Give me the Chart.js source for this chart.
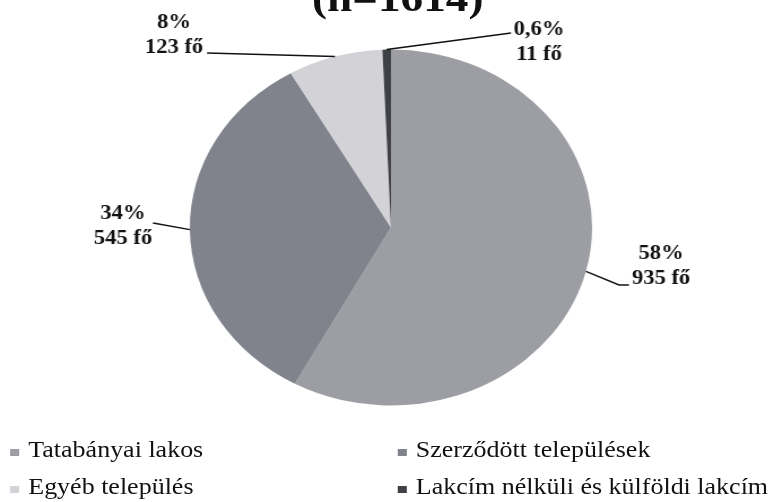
<!DOCTYPE html>
<html>
<head>
<meta charset="utf-8">
<script src="https://cdn.jsdelivr.net/npm/chart.js@4.4.1/dist/chart.umd.min.js"></script>
<style>
  html, body { margin: 0; padding: 0; background: #fff; overflow: hidden; }
  /* the source picture is stretched sideways, so the whole stage is too */
  #stage {
    position: absolute; left: 0; top: 0; width: 685px; height: 502px;
    transform: scaleX(1.13); transform-origin: 0 0;
    font-family: "Liberation Serif", "DejaVu Serif", serif; color: #111;
  }
  #title {
    position: absolute; left: 0; width: 704px; top: -22px;
    text-align: center; font-size: 40px; font-weight: bold; line-height: 40px;
  }
  #pie { position: absolute; left: 0; top: 0; }
  .item { position: absolute; font-size: 23px; line-height: 23px; white-space: nowrap; }
  .item i { position: absolute; width: 8px; height: 7px; top: 11px; }
</style>
</head>
<body>
<div id="stage">
  <div id="title">(n=1614)</div>
  <canvas id="pie" width="685" height="502"></canvas>
  <div id="legend"></div>
</div>
<script>
// ======================================
// Data
// ======================================

const SX = 1.13;

const labels = [
  "Tatabányai lakos",
  "Szerződött települések",
  "Egyéb település",
  "Lakcím nélküli és külföldi lakcím",
];

const counts = [935, 545, 123, 11];

const shares = ["58%", "34%", "8%", "0,6%"];

const colors = ["#9d9ea4", "#80828c", "#d3d3d7", "#3e4046"];

// ======================================
// Legend (two columns, html)
// ======================================

const legendSpots = [
  { left: 9, top: 438 },
  { left: 352, top: 438 },
  { left: 9, top: 475 },
  { left: 352, top: 475 },
];

const legend = document.getElementById("legend");

labels.forEach((label, i) => {
  const item = document.createElement("div");
  item.className = "item";
  item.style.left = legendSpots[i].left + "px";
  item.style.top = legendSpots[i].top + "px";
  item.style.paddingLeft = "16px";
  item.innerHTML = `<i style="left:0;background:${colors[i]}"></i>${label}`;
  legend.appendChild(item);
});

// ======================================
// Callout labels
// ======================================

const callouts = {
  id: "callouts",

  afterDatasetsDraw(chart, args, opts) {
    const ctx = chart.ctx;
    const meta = chart.getDatasetMeta(0);

    ctx.save();
    ctx.strokeStyle = "#111";
    ctx.lineWidth = 1.4;
    ctx.fillStyle = "#111";
    ctx.font = "bold 20px 'Liberation Serif', serif";
    ctx.textAlign = "center";
    ctx.textBaseline = "middle";

    meta.data.forEach((arc, i) => {
      const spot = opts.spots[i];
      const mid = (arc.startAngle + arc.endAngle) / 2;
      const ax = arc.x + Math.cos(mid) * arc.outerRadius;
      const ay = arc.y + Math.sin(mid) * arc.outerRadius;

      ctx.beginPath();
      spot.line.forEach((p, k) => {
        if (k === 0) ctx.moveTo(p[0] / SX, p[1]);
        else ctx.lineTo(p[0] / SX, p[1]);
      });
      ctx.lineTo(ax, ay);
      ctx.stroke();

      ctx.fillText(shares[i], spot.text[0] / SX, spot.text[1]);
      ctx.fillText(counts[i] + " fő", spot.text[0] / SX, spot.text[1] + 25);
    });

    ctx.restore();
  },
};

// ======================================
// Chart
// ======================================

new Chart(document.getElementById("pie"), {
  type: "pie",

  data: {
    labels: labels,

    datasets: [
      {
        data: counts,
        backgroundColor: colors,
        borderWidth: 0,
      },
    ],
  },

  options: {
    responsive: false,
    animation: false,

    layout: {
      padding: { top: 49.5, bottom: 96.5, left: 168, right: 161 },
    },

    plugins: {
      legend: { display: false },
      tooltip: { enabled: false },

      callouts: {
        spots: [
          { text: [661, 254], line: [[629, 285], [619, 285]] },
          { text: [123, 214], line: [[153, 223]] },
          { text: [174, 23], line: [[207, 53]] },
          { text: [539, 30], line: [[511, 33]] },
        ],
      },
    },
  },

  plugins: [callouts],
});
</script>
</body>
</html>
